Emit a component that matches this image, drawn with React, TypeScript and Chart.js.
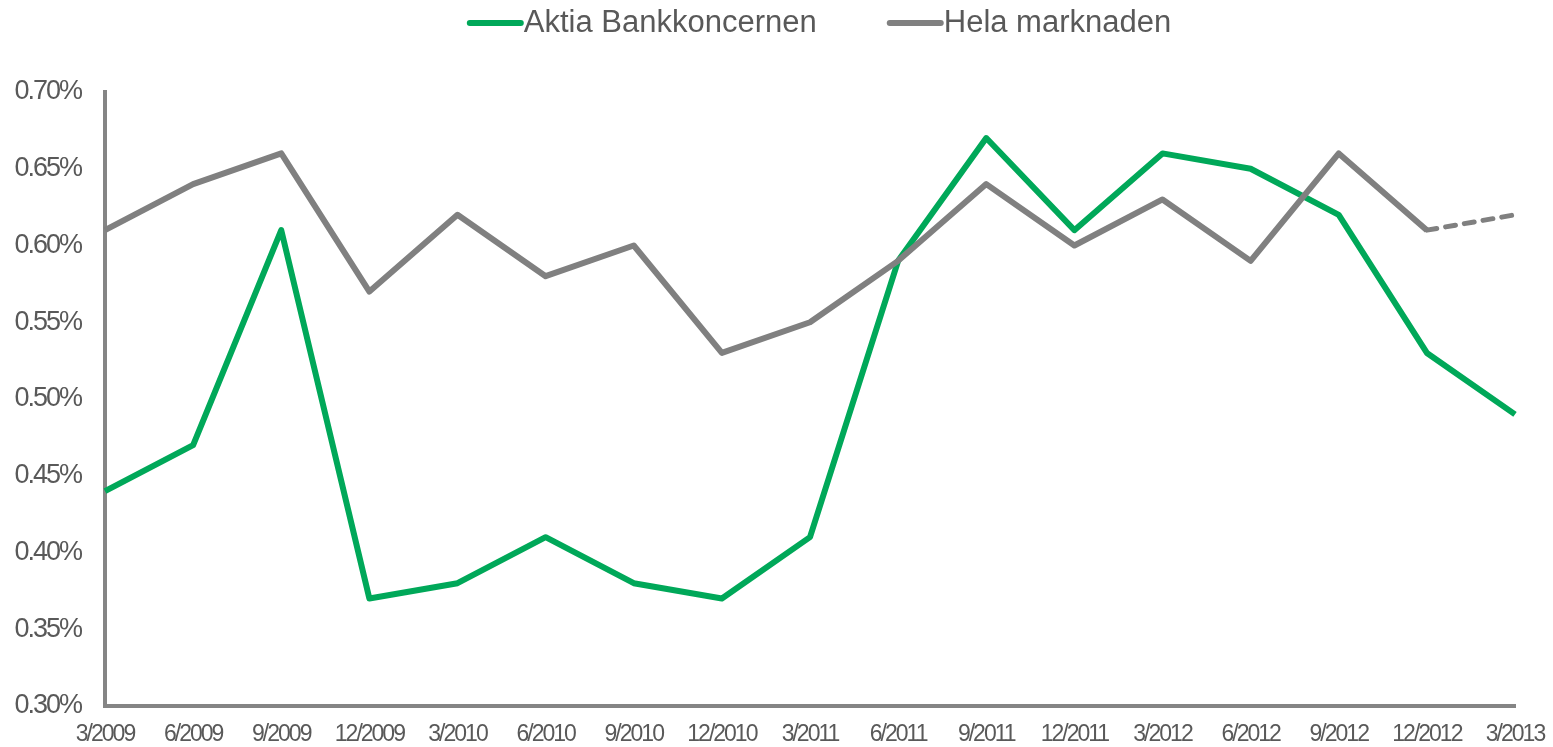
import React, { useEffect, useRef } from "react";
import { Chart, registerables } from "chart.js";

Chart.register(...registerables);

const categories = [
  "3/2009", "6/2009", "9/2009", "12/2009", "3/2010", "6/2010", "9/2010", "12/2010",
  "3/2011", "6/2011", "9/2011", "12/2011", "3/2012", "6/2012", "9/2012", "12/2012", "3/2013",
];

const aktiaLabel = "Aktia Bankkoncernen";
const aktiaValues = [
  0.44, 0.47, 0.61, 0.37, 0.38, 0.41, 0.38, 0.37,
  0.41, 0.59, 0.67, 0.61, 0.66, 0.65, 0.62, 0.53, 0.49,
];

const helaLabel = "Hela marknaden";
const helaValues = [
  0.61, 0.64, 0.66, 0.57, 0.62, 0.58, 0.60, 0.53,
  0.55, 0.59, 0.64, 0.60, 0.63, 0.59, 0.66, 0.61, 0.62,
];

// index of the first point of the dashed (estimated) segment in the market series
const helaDashedFrom = 15;

const yMin = 0.3;
const yMax = 0.7;
const yStep = 0.05;

const GREEN = "#00A859";
const GRAY = "#808080";
const AXIS = "#858585";
const TEXT = "#595959";
const FONT = "'Liberation Sans', Arial, sans-serif";

const letterSpacingPlugin = {
  id: "tickLetterSpacing",
  beforeDraw(chart: any) {
    (chart.ctx as any).letterSpacing = "0px";
  },
  afterDatasetsDraw(chart: any) {
    (chart.ctx as any).letterSpacing = "-2px";
  },
  afterDraw(chart: any) {
    (chart.ctx as any).letterSpacing = "0px";
  },
};

const lineLegendPlugin = {
  id: "lineLegend",
  afterDraw(chart: any) {
    const ctx = chart.ctx as CanvasRenderingContext2D;
    const area = chart.chartArea;
    const sets = chart.data.datasets;
    const fontSize = 31;
    const lineLen = 57;
    const itemGap = 70;
    const y = 23;
    ctx.save();
    (ctx as any).letterSpacing = "0px";
    ctx.font = `${fontSize}px ${FONT}`;
    const widths = sets.map((d: any) => lineLen + ctx.measureText(d.label).width);
    const total = widths.reduce((a: number, b: number) => a + b, 0) + itemGap * (sets.length - 1);
    let x = (area.left + area.right) / 2 + 9 - total / 2;
    sets.forEach((d: any, i: number) => {
      ctx.strokeStyle = d.borderColor;
      ctx.lineWidth = 6;
      ctx.lineCap = "round";
      ctx.beginPath();
      ctx.moveTo(x + 3, y);
      ctx.lineTo(x + lineLen - 3, y);
      ctx.stroke();
      ctx.fillStyle = TEXT;
      ctx.textAlign = "left";
      ctx.textBaseline = "middle";
      ctx.fillText(d.label, x + lineLen, y);
      x += widths[i] + itemGap;
    });
    ctx.restore();
  },
};

export default function App() {
  const canvasRef = useRef<HTMLCanvasElement | null>(null);

  useEffect(() => {
    const canvas = canvasRef.current;
    if (!canvas) return;
    const chart = new Chart(canvas, {
      type: "line",
      data: {
        labels: categories,
        datasets: [
          {
            label: aktiaLabel,
            data: aktiaValues,
            borderColor: GREEN,
            backgroundColor: GREEN,
            borderWidth: 6,
            borderJoinStyle: "round",
            pointRadius: 0,
            pointHoverRadius: 0,
            tension: 0,
            fill: false,
            order: 2,
          },
          {
            label: helaLabel,
            data: helaValues,
            borderColor: GRAY,
            backgroundColor: GRAY,
            borderWidth: 6,
            borderJoinStyle: "round",
            pointRadius: 0,
            pointHoverRadius: 0,
            tension: 0,
            fill: false,
            order: 1,
            segment: {
              borderDash: (c: any) => (c.p0DataIndex >= helaDashedFrom ? [10, 9] : undefined),
              borderCapStyle: (c: any) => (c.p0DataIndex >= helaDashedFrom ? "round" : undefined),
              borderWidth: (c: any) => (c.p0DataIndex >= helaDashedFrom ? 5 : undefined),
            },
          } as any,
        ],
      },
      options: {
        animation: false,
        responsive: true,
        maintainAspectRatio: false,
        layout: { padding: { top: 92, right: 38, left: 0, bottom: 0 } },
        plugins: {
          legend: { display: false },
          tooltip: { enabled: false },
          title: { display: false },
        },
        scales: {
          x: {
            type: "category",
            offset: false,
            grid: { display: false, drawTicks: false },
            border: { display: true, color: AXIS, width: 4 },
            ticks: {
              color: TEXT,
              font: { family: FONT, size: 23 },
              padding: 15,
              maxRotation: 0,
              autoSkip: false,
              z: 1,
            },
            afterFit: (scale: any) => {
              scale.height = 41;
              scale.paddingLeft = 0;
              scale.paddingRight = 0;
            },
          },
          y: {
            type: "linear",
            min: yMin,
            max: yMax,
            grid: { display: false, drawTicks: false },
            border: { display: true, color: AXIS, width: 4 },
            ticks: {
              stepSize: yStep,
              color: TEXT,
              font: { family: FONT, size: 27 },
              padding: 24,
              z: 1,
              callback: (v: any) => Number(v).toFixed(2) + "%",
            },
            afterFit: (scale: any) => {
              scale.width = 105;
            },
          },
        },
      },
      plugins: [letterSpacingPlugin, lineLegendPlugin],
    });
    return () => chart.destroy();
  }, []);

  return (
    <div style={{ position: "absolute", left: 0, top: 0, width: "1553px", height: "747px" }}>
      <canvas ref={canvasRef} />
    </div>
  );
}
